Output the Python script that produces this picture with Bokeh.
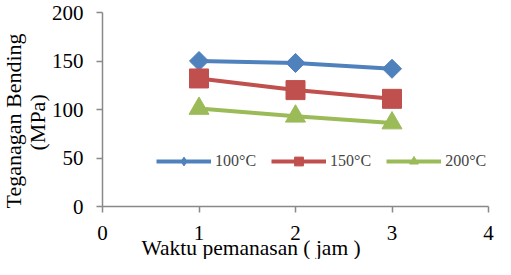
from bokeh.plotting import figure
from bokeh.models import Legend, LegendItem, Range1d, FixedTicker, Title
from bokeh.embed import file_html
from bokeh.resources import INLINE
import math

waktu = [1, 2, 3]
s100 = [150, 148, 142]
s150 = [132, 120, 111]
s200 = [101, 93, 86]
labels = ["100°C", "150°C", "200°C"]
colors = ["#4F81BD", "#C0504D", "#9BBB59"]
x_ticks = [0, 1, 2, 3, 4]
y_ticks = [0, 50, 100, 150, 200]
x_title = "Waktu pemanasan ( jam )"
y_title = ["Teganagan Bending", "(MPa)"]

FONT = "Liberation Serif"
AX = "#898989"

p = figure(width=495, height=259, output_backend="svg", toolbar_location=None,
           x_range=Range1d(0, 4), y_range=Range1d(0, 200),
           min_border_left=100, min_border_right=7, min_border_top=12, min_border_bottom=53)
p.outline_line_color = None
p.xgrid.grid_line_color = None
p.ygrid.grid_line_color = None
p.background_fill_color = None
p.border_fill_color = "white"

for ax in (p.xaxis[0], p.yaxis[0]):
    ax.axis_line_color = AX
    ax.axis_line_width = 1.5
    ax.major_tick_line_color = AX
    ax.major_tick_line_width = 1.5
    ax.major_tick_in = 0
    ax.major_tick_out = 6
    ax.minor_tick_line_color = None
    ax.major_label_text_font = FONT
    ax.major_label_text_font_size = "21px"
    ax.major_label_text_color = "black"

p.xaxis[0].ticker = FixedTicker(ticks=x_ticks)
p.yaxis[0].ticker = FixedTicker(ticks=y_ticks)
p.xaxis[0].major_label_standoff = 13
p.yaxis[0].major_label_standoff = 13


def make_title(text, offset, standoff, valign, size):
    t = Title(text=text, align="left", offset=offset, vertical_align=valign,
              text_font=FONT, text_font_size=size, text_font_style="normal",
              text_color="black")
    try:
        t.standoff = standoff
    except Exception:
        t.standoff = 0
    return t


# axis titles as Titles so they can sit off-centre like the original
p.add_layout(make_title(x_title, 39, -14, "top", "21.5px"), "below")
p.add_layout(make_title(y_title[1], 56, -2, "bottom", "22px"), "left")
p.add_layout(make_title(y_title[0], -2, -4, "bottom", "22px"), "left")

series = [s100, s150, s200]
plot_markers = [("square", 13.5, math.pi / 4), ("square", 19, 0), ("triangle", 20, 0)]
legend_markers = ["diamond", "square", "triangle"]
items = []
for ys, lab, col, (mk, sz, ang), lmk in zip(series, labels, colors, plot_markers, legend_markers):
    l = p.line(waktu, ys, line_color=col, line_width=4)
    small = p.scatter(waktu, ys, marker=lmk, size=1, fill_color=col, line_color=col)
    p.scatter(waktu, ys, marker=mk, size=sz, angle=ang, fill_color=col, line_color=col)
    items.append(LegendItem(label=lab, renderers=[l, small]))

legend = Legend(items=items, orientation="horizontal", location=(54, 34),
                padding=0, margin=0, spacing=15, label_standoff=4,
                glyph_width=55, glyph_height=22,
                label_text_font=FONT, label_text_font_size="16px",
                label_text_baseline="middle",
                border_line_color=None, background_fill_alpha=0)
p.add_layout(legend, "center")

open("out.html", "w").write(file_html(p, INLINE))
